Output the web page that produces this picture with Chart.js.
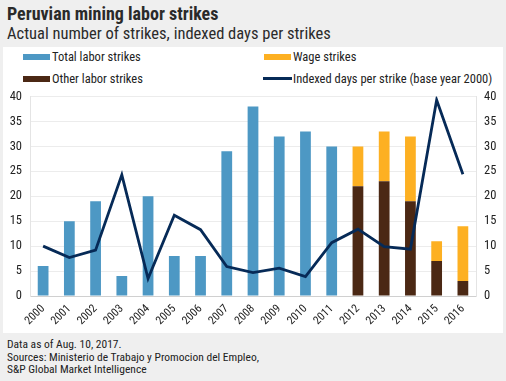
<!DOCTYPE html>
<html>
<head>
<meta charset="utf-8">
<script src="https://cdn.jsdelivr.net/npm/chart.js@4/dist/chart.umd.min.js"></script>
<style>
  html, body { margin:0; padding:0; }
  body { width:506px; height:381px; background:#efefef; position:relative; overflow:hidden;
         font-family:"Liberation Sans Narrow","Roboto Condensed",Roboto,"Liberation Sans",sans-serif; color:#222; }
  #title { position:absolute; left:7px; top:3px; font-size:18px; font-weight:bold; color:#2a2a2a; white-space:nowrap; }
  #subtitle { position:absolute; left:7px; top:24px; font-size:16.5px; color:#2a2a2a; white-space:nowrap; }
  #panel { position:absolute; left:3px; top:47px; width:500px; height:286px; background:#fff; }
  #wrap { position:absolute; left:3px; top:81px; width:500px; height:252px; }
  .lg { position:absolute; font-size:12.5px; color:#222; white-space:nowrap; line-height:14px; }
  .sw { position:absolute; width:27px; height:6px; }
  .ln { position:absolute; width:29px; height:3px; }
  #foot { position:absolute; left:7px; top:338px; font-size:11.5px; line-height:12.7px; color:#222; }
</style>
</head>
<body>
<div id="title">Peruvian mining labor strikes</div>
<div id="subtitle">Actual number of strikes, indexed days per strikes</div>
<div id="panel"></div>

<div class="sw" style="left:23px;top:54px;background:#4d98c4"></div>
<div class="lg" style="left:52px;top:50px">Total labor strikes</div>
<div class="sw" style="left:264px;top:54px;background:#fdb022"></div>
<div class="lg" style="left:293px;top:50px">Wage strikes</div>
<div class="sw" style="left:23px;top:76px;background:#4b2814"></div>
<div class="lg" style="left:52px;top:72px">Other labor strikes</div>
<div class="ln" style="left:263px;top:77px;background:#062a57"></div>
<div class="lg" style="left:293px;top:72px">Indexed days per strike (base year 2000)</div>

<div id="wrap"><canvas id="c"></canvas></div>

<div id="foot">Data as of Aug. 10, 2017.<br>Sources: Ministerio de Trabajo y Promocion del Empleo,<br>S&amp;P Global Market Intelligence</div>

<script>
const years = ["2000","2001","2002","2003","2004","2005","2006","2007","2008","2009","2010","2011","2012","2013","2014","2015","2016"];
const totalStrikes = [6,15,19,4,20,8,8,29,38,32,33,30,null,null,null,null,null];
const otherStrikes = [null,null,null,null,null,null,null,null,null,null,null,null,22,23,19,7,3];
const wageStrikes  = [null,null,null,null,null,null,null,null,null,null,null,null,8,10,13,4,11];
const indexedDays  = [10.0,7.7,9.2,24.3,3.5,16.2,13.3,5.9,4.7,5.6,3.9,10.7,13.4,9.9,9.4,39.3,24.4];
const yTicks = [0,5,10,15,20,25,30,35,40];

const FONT = '"Liberation Sans Narrow","Roboto Condensed",Roboto,"Liberation Sans",sans-serif';
Chart.defaults.font.family = FONT;
Chart.defaults.color = '#222';

new Chart(document.getElementById('c'), {
  data: {
    labels: years,
    datasets: [
      { type:'line', label:'Indexed days per strike (base year 2000)', data:indexedDays, yAxisID:'y1',
        borderColor:'#062a57', borderWidth:2.8, pointRadius:0, tension:0, order:0 },
      { type:'bar', label:'Total labor strikes', data:totalStrikes, backgroundColor:'#4d98c4', stack:'s', yAxisID:'y', order:1 },
      { type:'bar', label:'Other labor strikes', data:otherStrikes, backgroundColor:'#4b2814', stack:'s', yAxisID:'y', order:1 },
      { type:'bar', label:'Wage strikes', data:wageStrikes, backgroundColor:'#fdb022', stack:'s', yAxisID:'y', order:1 }
    ]
  },
  options: {
    responsive:true, maintainAspectRatio:false, animation:false,
    layout:{ padding:{ top:0, left:0, right:0, bottom:0 } },
    datasets:{ bar:{ barPercentage:0.82, categoryPercentage:0.5 } },
    plugins:{ legend:{ display:false }, tooltip:{ enabled:false } },
    scales:{
      x:{ stacked:true,
          grid:{ display:false, drawTicks:false },
          border:{ color:'#d0d0d0' },
          ticks:{ maxRotation:45, minRotation:45, font:{ size:11.5 }, color:'#222', padding:6 },
          afterFit:(s)=>{ s.height = 37; } },
      y:{ stacked:true, position:'left', min:0, max:40,
          afterBuildTicks:(s)=>{ s.ticks = yTicks.map(v=>({value:v})); },
          grid:{ color:'#ececec', drawTicks:false },
          border:{ color:'#e4e4e4' },
          ticks:{ font:{ size:12.5 }, color:'#222', padding:8 },
          afterFit:(s)=>{ s.width = 27; } },
      y1:{ position:'right', min:0, max:40,
          afterBuildTicks:(s)=>{ s.ticks = yTicks.map(v=>({value:v})); },
          grid:{ display:false, drawTicks:false },
          border:{ color:'#e4e4e4' },
          ticks:{ font:{ size:12.5 }, color:'#222', padding:8 },
          afterFit:(s)=>{ s.width = 27; } }
    }
  }
});
</script>
</body>
</html>
